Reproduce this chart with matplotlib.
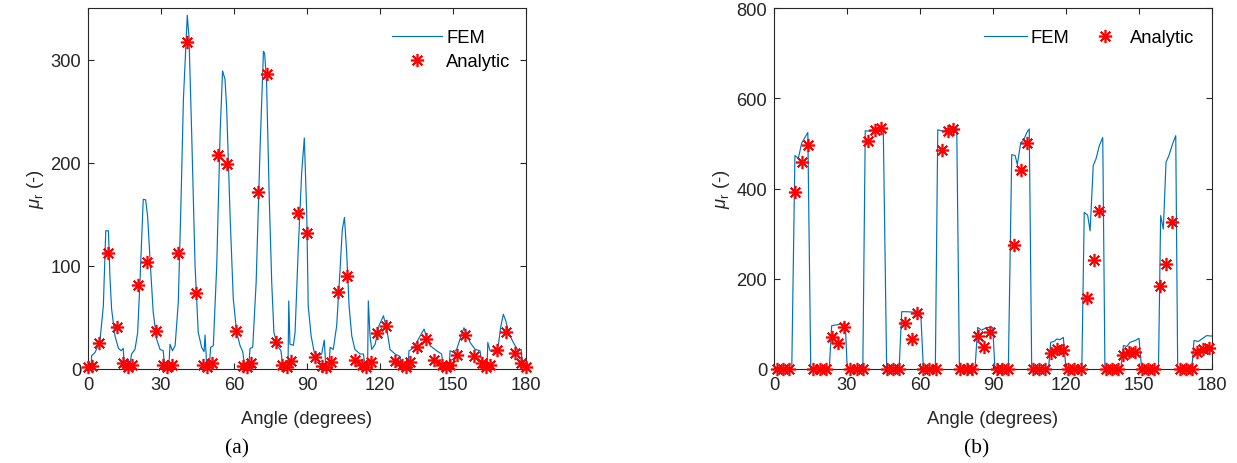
import numpy as np
import matplotlib
matplotlib.use("Agg")
import matplotlib.pyplot as plt

# ---------------- data ----------------
fem_a_angle = [0, 1.2, 1.5, 2.9, 4.9, 6.3, 7.3, 8.4, 9.0, 9.7, 11.1, 12.5, 13.6, 14.5, 14.9, 15.8, 17.0, 17.9,
               19.3, 20.4, 21.4, 22.7, 23.7, 24.5, 25.5, 26.8, 28.2, 29.6, 30.9, 31.6, 33.2, 33.7, 34.7, 35.8,
               37.1, 38.2, 39.2, 40.3, 40.8, 41.5, 42.6, 44.0, 45.3, 46.7, 47.7, 48.1, 48.5, 48.8, 49.8, 50.4,
               51.5, 52.9, 54.3, 55.3, 56.3, 57.0, 58.4, 59.7, 61.1, 62.5, 63.6, 64.5, 66.0, 66.6, 67.7, 69.1,
               70.7, 72.1, 72.6, 73.4, 74.5, 75.5, 76.4, 77.8, 79.3, 80.2, 82.2, 82.5, 83.0, 84.4, 85.1, 86.4,
               87.8, 88.9, 89.9, 90.5, 91.7, 93.0, 94.7, 96.0, 97.1, 97.7, 99.0, 99.5, 100.8, 102.2, 103.6,
               104.5, 105.4, 106.3, 107.3, 108.4, 109.7, 111.8, 113.2, 113.8, 114.9, 115.2, 115.9, 116.6, 118.0,
               119.6, 121.4, 122.8, 124.1, 126.2, 128.2, 128.8, 131.5, 131.9, 133.0, 135.1, 136.5, 138.1, 139.2,
               140.6, 143.3, 145.3, 146.0, 148.4, 148.8, 150.2, 151.5, 153.3, 154.5, 155.6, 157.0, 159.1, 161.1,
               161.8, 164.0, 164.3, 165.2, 167.3, 168.6, 169.7, 170.7, 171.7, 172.7, 174.1, 175.5, 176.9, 178.0,
               178.5, 179.5, 180]
fem_a_value = [0, 1, 13, 16, 27, 61, 134, 134, 90, 58, 32, 20, 17.7, 20, 3, 0, 1, 14.5,
               19, 35, 87, 164.5, 164, 148, 106, 55, 29, 19, 17.7, 0, 1, 24, 17.7, 22.6,
               64.5, 160, 261, 316, 343, 322, 229, 100, 35.5, 21, 16.8, 33, 16, 0, 1, 21,
               22.6, 100, 229, 289, 281, 252, 148, 68, 35.5, 22.6, 16.8, 0, 1, 20, 21, 84,
               213, 308, 306, 277, 164.5, 84, 35.5, 22.6, 17.7, 0, 1, 66, 24, 23, 35.5, 116,
               190, 224, 150, 61, 32, 16, 13, 14.5, 28, 3, 1, 21, 19, 42, 97,
               135, 147, 113, 61, 32, 19, 14.5, 14.5, 3, 1, 66, 32, 19, 24,
               42, 51.6, 38.7, 19, 14.5, 12.2, 3, 1, 17.7, 19, 25.8, 32, 38.7, 30.6,
               22.6, 17.7, 14.5, 3, 1, 17.7, 16, 19, 32, 40, 34, 25.8, 19, 17.7,
               6.4, 1, 25.8, 17.7, 16, 22.6, 42, 53, 46.7, 37, 29, 22.6, 17.7, 19,
               5, 1, 0]

ana_a_angle = [0.1, 1.5, 4.5, 8.1, 11.8, 14.5, 16.6, 18, 20.7, 24.4, 27.9, 30.7, 32.6, 34.4, 37.1, 40.6, 44.4,
               47.1, 49, 50.8, 53.6, 57.3, 60.7, 63.8, 65.2, 66.9, 70, 73.4, 77.1, 79.9, 81.7, 83.4, 86.4,
               89.9, 93.3, 96.3, 97.7, 99.7, 102.9, 106.3, 109.7, 112.5, 114.3, 116.2, 118.9, 122.5, 126.2,
               128.9, 130.7, 132.3, 135.1, 138.8, 142.3, 145.4, 147, 148.8, 151.5, 154.9, 158.8, 161.8,
               163.6, 165.2, 168, 171.8, 175.5, 177.8, 179.9]
ana_a_value = [2, 3, 25, 112, 41, 5.5, 2, 4, 81.6, 104, 36.5, 4, 1.6, 4, 112, 317, 73.5,
               4, 1.6, 5.8, 207, 199, 36.5, 3, 1.6, 5.5, 172, 286, 25.8, 4, 1.6, 8, 151,
               132, 11.3, 3, 1.6, 7, 74.8, 90, 9, 4, 1.6, 7, 34.5, 42, 8,
               4, 1.6, 6.4, 21.6, 29, 9, 4, 1.6, 4, 13.9, 33, 12.2, 5.5,
               1.6, 4, 18.7, 36, 15.5, 5.8, 1.6]

fem_b_angle = [0, 7.3, 8.6, 10.0, 11.4, 13.9, 15.1, 22.7, 23.7, 25.8, 28.5, 29.3, 30.1, 36.5, 37.5, 39.4, 41.5,
               44.9, 46.3, 51.4, 52.5, 54.6, 58.6, 60.3, 61.4, 66.3, 67.3, 69.6, 72.3, 75.1, 76.2, 82.6, 83.7,
               85.3, 87.3, 89.9, 90.8, 96.3, 97.7, 99.1, 100.0, 101.4, 102.5, 103.9, 104.9, 105.9, 112.8, 113.7,
               115.1, 116.2, 117.5, 118.9, 120.0, 126.5, 127.5, 128.9, 129.9, 131.2, 132.3, 133.7, 135.1, 136.0,
               142.5, 143.6, 145.0, 146.3, 148.4, 150.0, 151.1, 158.0, 158.9, 160.0, 161.1, 162.3, 163.8, 165.1,
               165.9, 171.7, 172.6, 174.4, 176.2, 177.8, 179.9]
fem_b_value = [0, 0, 473, 467, 501, 524, 0, 0, 96, 98, 100, 100, 0, 0, 528, 527, 532,
               535, 0, 0, 127, 127, 125.5, 124.7, 0, 0, 530, 527, 532, 535, 0, 0, 92,
               86, 92, 92, 0, 0, 475, 473, 453, 502, 506, 524, 532, 0, 0, 59,
               61, 66.5, 65, 70, 0, 0, 347, 341, 306, 451, 465, 495, 513, 0,
               0, 52, 50, 59, 63, 68, 0, 0, 340, 310, 458, 473, 499, 517,
               0, 0, 63, 61, 68, 74, 73]

ana_b_angle = [1.1, 3.8, 6.3, 8.6, 11.4, 14.1, 16.2, 18.9, 21.4, 23.7, 26.4, 28.9, 31.2, 34.0, 36.5,
               38.8, 41.5, 43.8, 46.3, 49.0, 51.5, 53.8, 56.6, 58.9, 61.1, 63.9, 66.5, 68.9, 71.4, 73.7,
               76.4, 79.2, 81.5, 84.0, 86.5, 88.8, 91.5, 93.8, 96.3, 98.6, 101.4, 103.9, 106.6, 108.9, 111.4,
               113.7, 116.2, 118.7, 121.0, 123.4, 126.1, 128.8, 131.5, 133.7, 136.5, 138.8, 141.3,
               143.6, 145.9, 148.4, 151.1, 153.9, 156.3, 158.6, 161.1, 163.4, 166.9, 169.2, 171.7,
               173.7, 176.4, 178.9]
ana_b_value = [0, 0, 0, 393, 458, 497, 0, 0, 0, 72, 57, 92, 0, 0, 0,
               506, 530, 533, 0, 0, 0, 103, 66.5, 123, 0, 0, 0, 486, 527, 532,
               0, 0, 0, 74, 48, 83, 0, 0, 0, 275, 440, 500, 0, 0, 0,
               35.5, 44, 42, 0, 0, 0, 157, 241, 351, 0, 0, 0,
               31, 38, 38, 0, 0, 0, 183, 233, 325, 0, 0, 0,
               37, 44, 46]

x_ticks = [0, 30, 60, 90, 120, 150, 180]
y_ticks_a = [0, 100, 200, 300]
y_ticks_b = [0, 200, 400, 600, 800]
captions = ["(a)", "(b)"]

# ---------------- style ----------------
plt.rcParams['font.family'] = ['Liberation Sans', 'DejaVu Sans']
plt.rcParams['mathtext.fontset'] = 'custom'
plt.rcParams['mathtext.rm'] = 'Liberation Sans'
plt.rcParams['mathtext.it'] = 'Liberation Sans:italic'

BLUE = '#0072BD'
DARK = '#262626'
FS = 13.2
AST = (8, 2, 0)

fig = plt.figure(figsize=(12.37, 4.64), dpi=100)
W, H = 1237, 464

def axes_px(l, r, t, b):
    return fig.add_axes([l / W, 1 - b / H, (r - l) / W, (b - t) / H])

ax1 = axes_px(88, 526, 9, 370)
ax2 = axes_px(774, 1212, 9, 370)

panels = [
    (ax1, fem_a_angle, fem_a_value, ana_a_angle, ana_a_value, y_ticks_a, 350),
    (ax2, fem_b_angle, fem_b_value, ana_b_angle, ana_b_value, y_ticks_b, 800),
]

for ax, fa, fv, aa, av, yt, ymax in panels:
    ax.plot(fa, fv, color=BLUE, lw=0.85, label='FEM', zorder=2)
    ax.plot(aa, av, linestyle='none', marker=AST, markersize=9.5, markeredgewidth=1.2,
            color='#FF0000', label='Analytic', zorder=3, clip_on=False)
    ax.set_xlim(0, 180)
    ax.set_ylim(0, ymax)
    ax.set_xticks(x_ticks)
    ax.set_yticks(yt)
    ax.tick_params(direction='in', top=True, right=True, length=4.5, width=0.8,
                   labelsize=FS, colors=DARK, pad=5)
    for s in ax.spines.values():
        s.set_color(DARK)
        s.set_linewidth(0.8)
    ax.set_xlabel('Angle (degrees)', fontsize=FS, color=DARK, labelpad=12)
    ax.set_ylabel(r'$\mu_{\mathrm{r}}$ (-)', fontsize=FS, color=DARK, labelpad=3)

ax1.legend(loc='upper left', bbox_to_anchor=((392 - 88) / 438, (370 - 30) / 361), frameon=False,
           fontsize=FS, handlelength=2.75, handletextpad=0.2, labelspacing=0.38,
           borderpad=0, borderaxespad=0)
ax2.legend(loc='upper left', bbox_to_anchor=((984 - 774) / 438, (370 - 30) / 361), frameon=False,
           fontsize=FS, handlelength=2.35, handletextpad=0.2, columnspacing=0.75, ncol=2,
           borderpad=0, borderaxespad=0)

fig.text(237 / W, 1 - 449 / H, captions[0], family='Liberation Serif', fontsize=15.5,
         ha='center', va='center', color='black')
fig.text(977 / W, 1 - 449 / H, captions[1], family='Liberation Serif', fontsize=15.5,
         ha='center', va='center', color='black')

fig.savefig('out.png', dpi=100)
